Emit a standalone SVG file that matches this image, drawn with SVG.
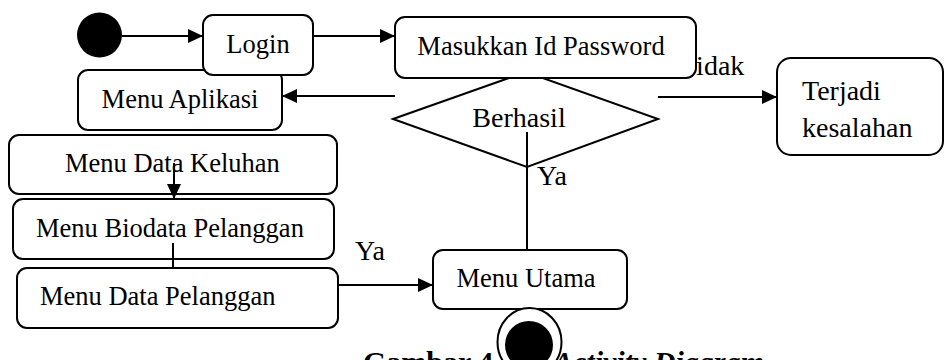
<svg xmlns="http://www.w3.org/2000/svg" width="944" height="360" viewBox="0 0 944 360">
<style>
.box{fill:#fff;stroke:#000;stroke-width:2}
.t{font-family:"Liberation Serif","Times New Roman",serif;font-size:26.5px;fill:#000}
.tl{font-family:"Liberation Serif","Times New Roman",serif;font-size:28px;fill:#000}
.c{fill:none;stroke:#000;stroke-width:2}
.cap{font-family:"Liberation Serif","Times New Roman",serif;font-size:30px;font-weight:bold;fill:#000}
</style>
<defs>
<marker id="arr" markerWidth="15" markerHeight="14" refX="15" refY="7" orient="auto" markerUnits="userSpaceOnUse">
<path d="M0,0 L15,7 L0,14 z" fill="#000"/>
</marker>
</defs>
<rect width="944" height="360" fill="#fff"/>
<text class="cap" y="372"><tspan x="363">Gambar 4</tspan><tspan x="553" font-style="italic">Activity Diagram</tspan></text>
<g id="decision">
<polygon class="box" points="393,119 526,72 658,119 527,167"/>
<text class="tl" x="519" y="127" text-anchor="middle">Berhasil</text>
</g>
<text id="label-tidak" class="tl" x="680" y="75">Tidak</text>
<g id="start">
<circle cx="99.5" cy="35" r="22.5" fill="#000"/>
</g>
<g id="menu-aplikasi">
<rect class="box" x="78" y="70" width="204" height="60" rx="10"/>
<text class="t" x="180" y="108" text-anchor="middle">Menu Aplikasi</text>
</g>
<g id="login">
<rect class="box" x="203" y="15" width="110" height="60" rx="10"/>
<text class="t" x="258" y="53" text-anchor="middle">Login</text>
</g>
<g id="masukkan">
<rect class="box" x="395" y="17" width="301" height="61" rx="10"/>
<text class="t" x="541" y="55" text-anchor="middle">Masukkan Id Password</text>
</g>
<g id="terjadi">
<rect class="box" x="777" y="58" width="166" height="97" rx="14"/>
<text class="tl" x="802" y="100">Terjadi</text>
<text class="tl" x="802" y="137">kesalahan</text>
</g>
<g id="menu-data-keluhan">
<rect class="box" x="9" y="135" width="328" height="59" rx="10"/>
<text class="t" x="65" y="172">Menu Data Keluhan</text>
</g>
<g id="menu-biodata">
<rect class="box" x="13" y="199" width="321" height="60" rx="10"/>
<text class="t" x="36" y="237">Menu Biodata Pelanggan</text>
</g>
<g id="menu-data-pelanggan">
<rect class="box" x="17" y="268" width="321" height="60" rx="10"/>
<text class="t" x="40" y="305">Menu Data Pelanggan</text>
</g>
<g id="menu-utama">
<rect class="box" x="433" y="250" width="194" height="59" rx="10"/>
<text class="t" x="526" y="287" text-anchor="middle">Menu Utama</text>
</g>
<g id="connectors">
<line class="c" x1="122" y1="36" x2="203" y2="36" marker-end="url(#arr)"/>
<line class="c" x1="313" y1="36" x2="395" y2="36" marker-end="url(#arr)"/>
<line class="c" x1="395" y1="96" x2="282" y2="96" marker-end="url(#arr)"/>
<line class="c" x1="658" y1="97" x2="777" y2="97" marker-end="url(#arr)"/>
<line class="c" x1="527" y1="132" x2="527" y2="250"/>
<line class="c" x1="174" y1="163" x2="174" y2="199" marker-end="url(#arr)"/>
<line class="c" x1="173" y1="243" x2="173" y2="268"/>
<line class="c" x1="338" y1="285" x2="433" y2="285" marker-end="url(#arr)"/>
<line class="c" x1="528" y1="309" x2="528" y2="318"/>
<text class="tl" x="537" y="185">Ya</text>
<text class="tl" x="355" y="260">Ya</text>
</g>
<g id="end">
<ellipse cx="529.5" cy="342" rx="32" ry="34" fill="#fff" stroke="#000" stroke-width="2"/>
<circle cx="529" cy="345" r="24" fill="#000"/>
</g>
</svg>
